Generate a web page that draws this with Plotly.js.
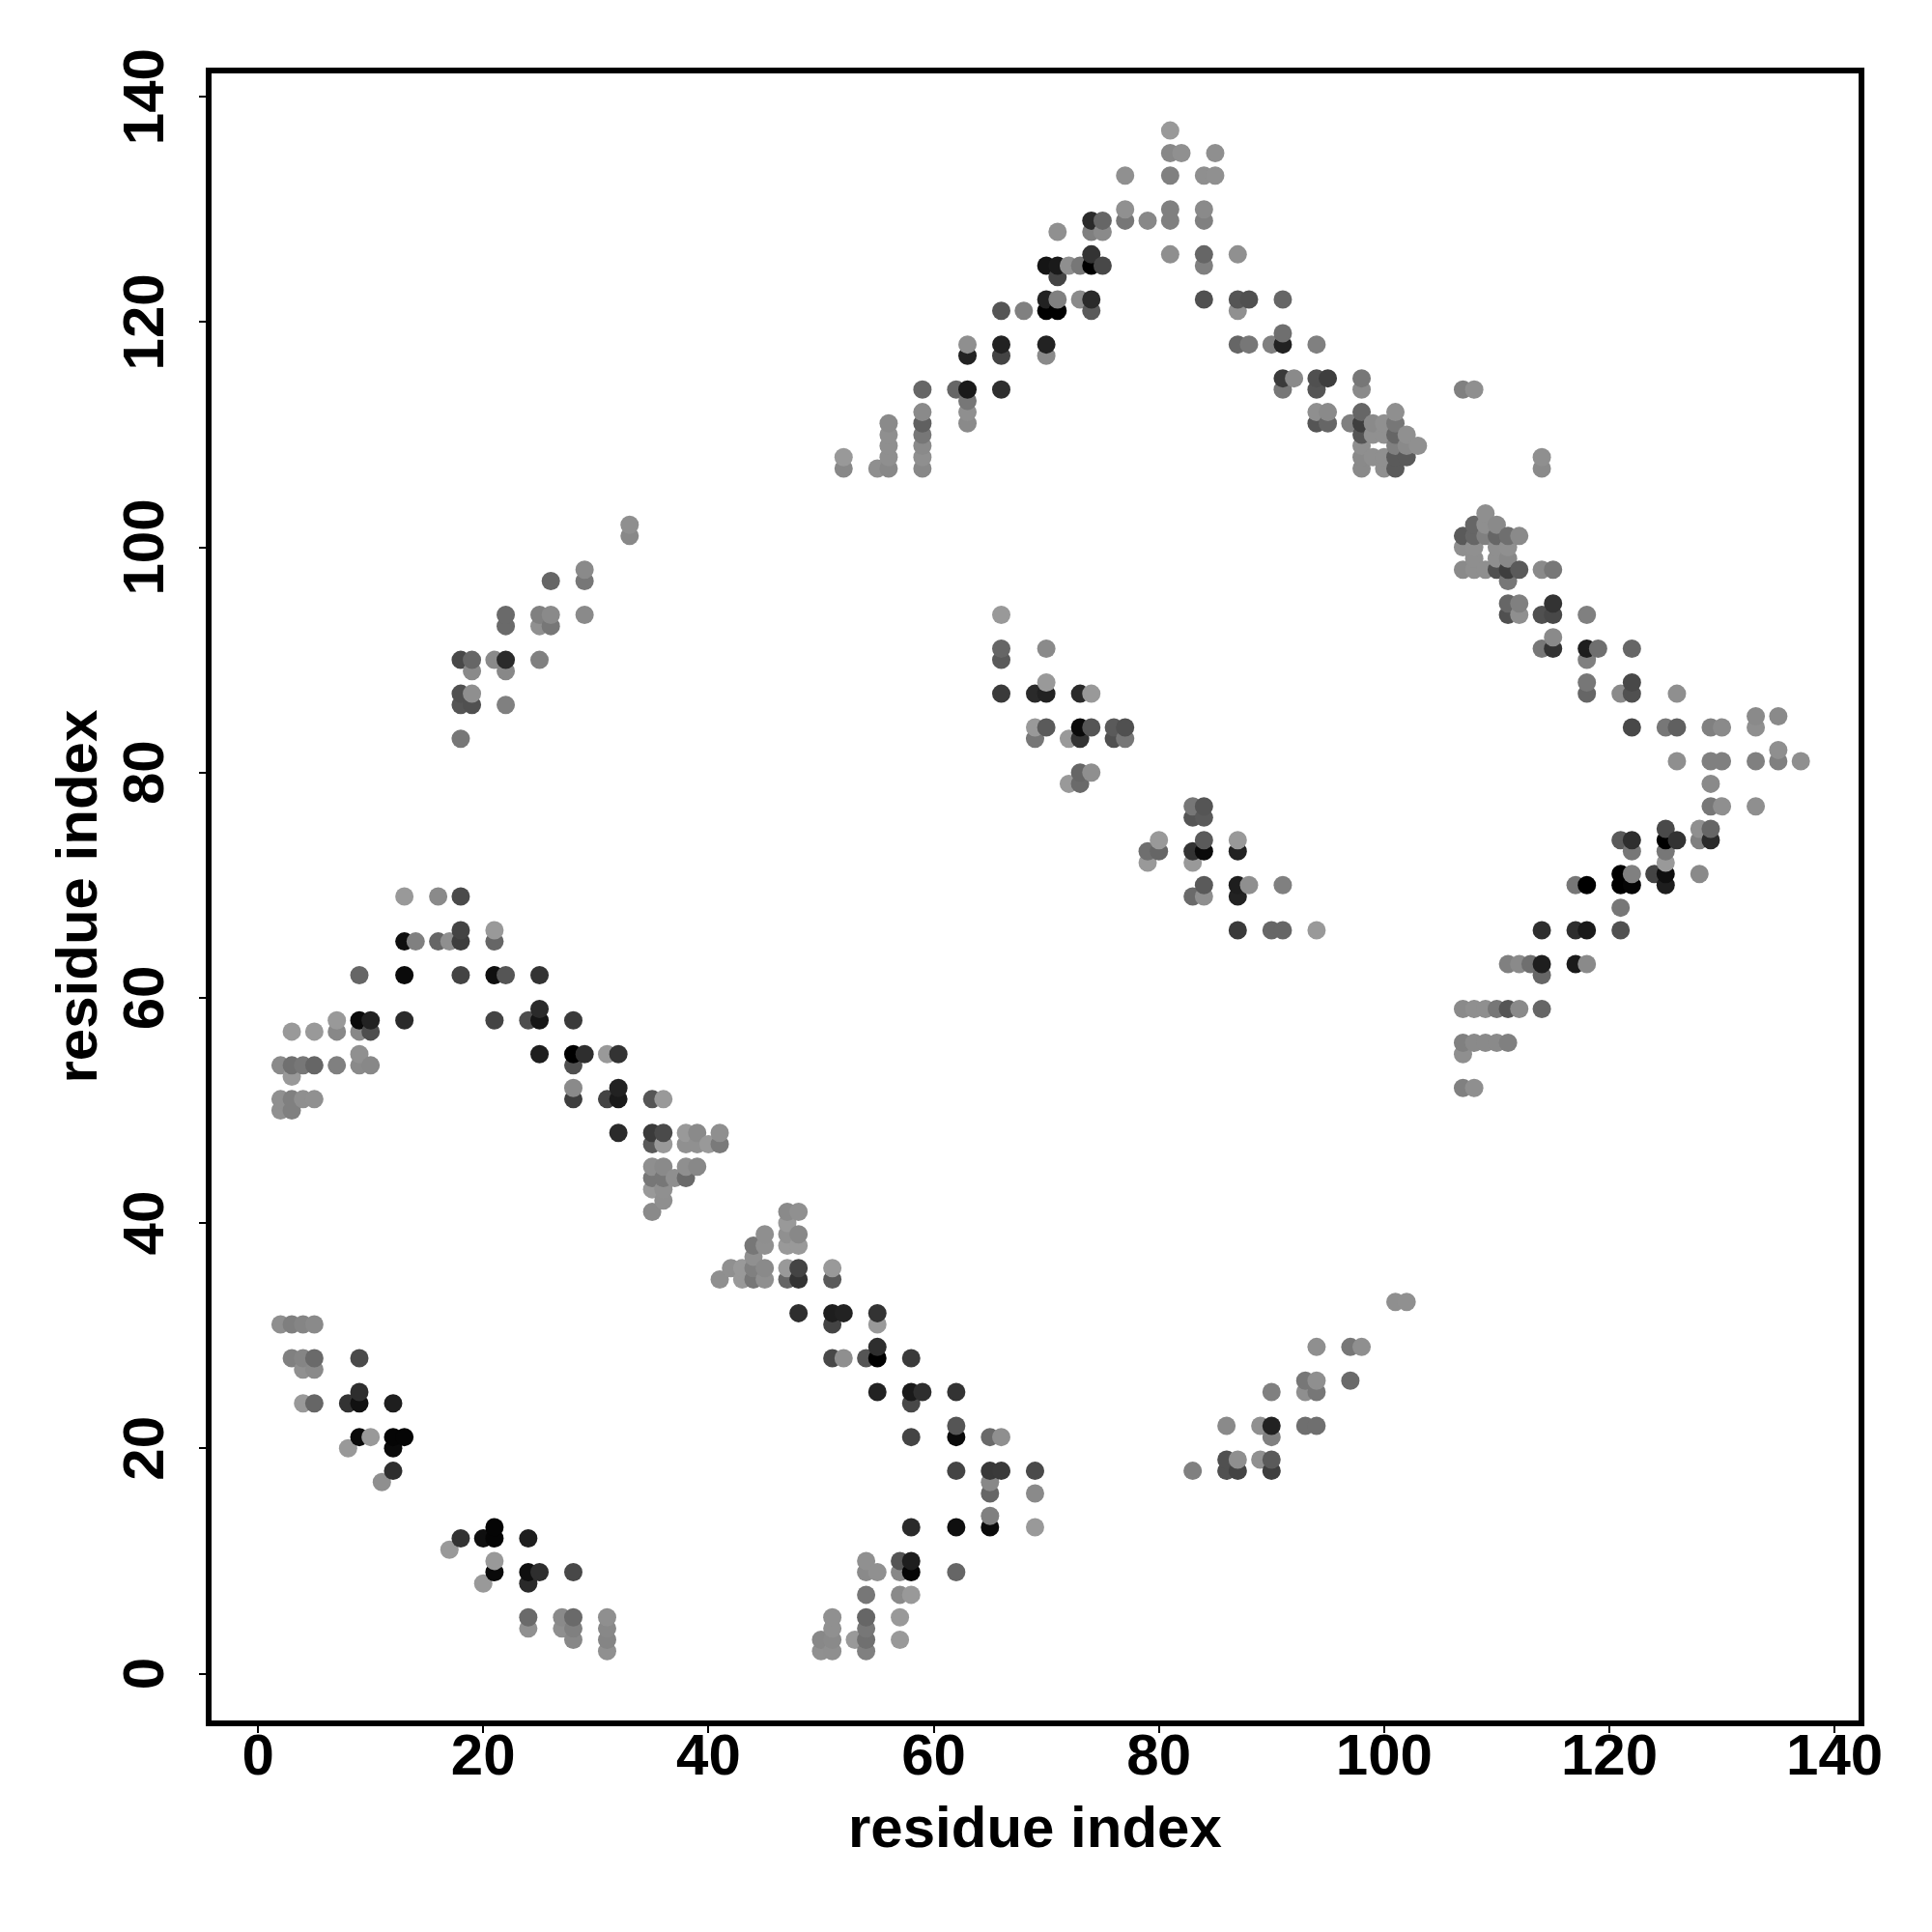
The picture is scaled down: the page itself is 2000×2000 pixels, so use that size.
<!DOCTYPE html>
<html>
<head>
<meta charset="utf-8">
<script src="https://cdn.plot.ly/plotly-3.0.1.min.js"></script>
<style>html,body{margin:0;padding:0;background:#fff}</style>
</head>
<body>
<div id="chart" style="width:2000px;height:2000px"></div>
<script>
const axisTicks = [0, 20, 40, 60, 80, 100, 120, 140];
const axisLabel = "residue index";

const residueX = [
31,50,51,54,
28,31,50,51,53,54,57,
24,27,28,31,51,54,
24,27,28,31,51,54,57,
54,57,58,
20,24,
21,24,25,28,54,55,57,58,62,
21,54,57,58,
17,
18,20,21,24,
21,58,62,65,69,
65,
65,69,
11,65,
12,62,65,66,69,83,86,87,90,
86,87,89,90,
8,12,
9,10,12,13,58,62,65,66,90,
62,86,89,90,93,94,
4,5,8,9,12,58,
9,55,58,59,62,90,93,94,
93,94,97,
4,5,
3,4,5,9,51,52,54,55,58,
55,94,97,98,
2,3,4,5,51,55,
48,51,52,55,
101,102,
41,43,44,45,47,48,51,
42,43,44,45,47,48,51,
44,
44,45,47,48,
45,47,48,
47,
35,47,48,
36,
35,36,
35,36,37,38,
35,36,38,39,
35,36,38,39,40,41,
32,35,36,38,39,41,
2,3,
2,3,4,5,28,31,32,35,36,
28,32,107,108,
3,
2,3,4,5,7,9,10,28,
9,25,28,29,31,32,107,
107,108,109,110,111,
3,5,7,9,10,
7,9,10,13,21,24,25,28,
25,107,108,109,110,111,112,114,
9,13,18,21,22,25,114,
111,112,113,114,117,118,
13,14,16,17,18,21,
18,21,87,90,91,94,114,117,118,121,
121,
13,16,18,83,84,87,
84,87,88,91,117,118,121,122,125,
121,122,124,125,128,
79,83,125,
79,80,83,84,87,122,125,
80,84,87,121,122,125,126,128,129,
125,128,129,
83,84,
83,84,129,130,133,
72,73,129,
73,74,
126,129,130,133,135,137,
135,
18,69,72,73,76,77,
69,70,73,74,76,77,122,125,126,129,130,133,
133,135,
18,19,22,
18,19,66,69,70,73,74,118,121,122,126,
70,118,122,
19,22,
18,19,21,22,25,66,118,
66,70,114,115,118,119,122,
115,
22,25,26,
22,25,26,29,66,111,112,114,115,118,
111,112,115,
26,29,111,
29,107,108,109,110,111,112,114,115,
108,110,111,
107,108,110,111,
33,107,108,109,110,111,112,
33,108,109,110,
109,
52,55,56,59,98,100,101,114,
52,56,59,98,99,100,101,102,114,
56,59,98,101,102,103,
56,59,98,99,100,101,102,
56,59,63,94,95,97,98,99,100,101,
59,63,94,95,98,101,
63,
59,62,63,66,91,94,98,107,108,
91,92,94,95,98,
63,66,70,
63,66,70,87,88,90,91,94,
91,
66,68,70,71,74,87,
70,71,73,74,84,87,88,91,
71,
70,71,72,73,74,75,84,
74,81,84,87,
71,74,75,
74,75,77,79,81,84,
77,81,84,
77,81,84,85,
81,82,85,
81
];

const residueY = [
2,2,2,2,
3,3,3,3,3,3,3,
4,4,4,4,4,4,
5,5,5,5,5,5,5,
7,7,7,
8,8,
9,9,9,9,9,9,9,9,9,
10,10,10,10,
11,
12,12,12,12,
13,13,13,13,13,
14,
16,16,
17,17,
18,18,18,18,18,18,18,18,18,
19,19,19,19,
20,20,
21,21,21,21,21,21,21,21,21,
22,22,22,22,22,22,
24,24,24,24,24,24,
25,25,25,25,25,25,25,25,
26,26,26,
27,27,
28,28,28,28,28,28,28,28,28,
29,29,29,29,
31,31,31,31,31,31,
32,32,32,32,
33,33,
35,35,35,35,35,35,35,
36,36,36,36,36,36,36,
37,
38,38,38,38,
39,39,39,
40,
41,41,41,
42,
43,43,
44,44,44,44,
45,45,45,45,
47,47,47,47,47,47,
48,48,48,48,48,48,
50,50,
51,51,51,51,51,51,51,51,51,
52,52,52,52,
53,
54,54,54,54,54,54,54,54,
55,55,55,55,55,55,55,
56,56,56,56,56,
57,57,57,57,57,
58,58,58,58,58,58,58,58,
59,59,59,59,59,59,59,59,
62,62,62,62,62,62,62,
63,63,63,63,63,63,
65,65,65,65,65,65,
66,66,66,66,66,66,66,66,66,66,
68,
69,69,69,69,69,69,
70,70,70,70,70,70,70,70,70,
71,71,71,71,71,
72,72,72,
73,73,73,73,73,73,73,
74,74,74,74,74,74,74,74,74,
75,75,75,
76,76,
77,77,77,77,77,
79,79,79,
80,80,
81,81,81,81,81,81,
82,
83,83,83,83,83,83,
84,84,84,84,84,84,84,84,84,84,84,84,
85,85,
86,86,86,
87,87,87,87,87,87,87,87,87,87,87,
88,88,88,
89,89,
90,90,90,90,90,90,90,
91,91,91,91,91,91,91,
92,
93,93,93,
94,94,94,94,94,94,94,94,94,94,
95,95,95,
97,97,97,
98,98,98,98,98,98,98,98,98,
99,99,99,
100,100,100,100,
101,101,101,101,101,101,101,
102,102,102,102,
103,
107,107,107,107,107,107,107,107,
108,108,108,108,108,108,108,108,108,
109,109,109,109,109,109,
110,110,110,110,110,110,110,
111,111,111,111,111,111,111,111,111,111,
112,112,112,112,112,112,
113,
114,114,114,114,114,114,114,114,114,
115,115,115,115,115,
117,117,117,
118,118,118,118,118,118,118,118,
119,
121,121,121,121,121,121,
122,122,122,122,122,122,122,122,
124,
125,125,125,125,125,125,125,
126,126,126,126,
128,128,128,
129,129,129,129,129,129,
130,130,130,
133,133,133,133,
135,135,135,
137
];

const greyLevel = [
0x90,0x90,0x8f,0x80,
0x88,0x85,0x88,0x8a,0x99,0x70,0x99,
0x90,0x8f,0x80,0x88,0x90,0x77,
0x6a,0x8a,0x6a,0x8f,0x90,0x66,0x99,
0x77,0x8a,0x99,
0x99,0x2a,
0x0a,0x0f,0x2e,0x48,0x8a,0x90,0x88,0x05,0x66,
0x99,0x90,0x55,0x1e,
0x99,
0x33,0x0f,0x05,0x1e,
0x05,0x2a,0x0f,0x0a,0x99,
0x80,
0x66,0x8a,
0x8f,0x88,
0x2e,0x44,0x38,0x3a,0x4a,0x80,0x50,0x44,0x3e,
0x50,0x8f,0x90,0x5a,
0x99,0x0a,
0x0a,0x99,0x05,0x05,0x44,0x0a,0x6a,0x8f,0x80,
0x55,0x8a,0x90,0x22,0x6f,0x6f,
0x99,0x66,0x33,0x11,0x1e,0x48,
0x2e,0x22,0x1a,0x2e,0x33,0x80,0x8f,0x77,
0x77,0x8f,0x6a,
0x90,0x8a,
0x80,0x85,0x6a,0x4a,0x48,0x8f,0x55,0x00,0x3a,
0x2e,0x8f,0x77,0x8f,
0x8f,0x7f,0x85,0x8a,0x44,0x99,
0x2e,0x1e,0x22,0x33,
0x8f,0x90,
0x8f,0x99,0x77,0x90,0x66,0x33,0x5a,
0x90,0x99,0x80,0x8a,0x99,0x44,0x99,
0x90,
0x77,0x90,0x99,0x99,
0x8f,0x90,0x88,
0x99,
0x8a,0x8a,0x90,
0x8f,
0x99,0x90,
0x77,0x77,0x8f,0x6a,
0x8f,0x8a,0x8f,0x88,
0x5a,0x99,0x90,0x90,0x99,0x7a,
0x2a,0x3a,0x4a,0x99,0x8a,0x8f,
0x90,0x80,
0x90,0x80,0x8f,0x90,0x3e,0x44,0x1a,0x55,0x99,
0x8a,0x22,0x80,0x8f,
0x99,
0x8a,0x70,0x77,0x66,0x80,0x8a,0x88,0x50,
0x90,0x1e,0x00,0x2e,0x99,0x33,0x8f,
0x80,0x8a,0x8a,0x8a,0x80,
0x99,0x99,0x88,0x88,0x4e,
0x99,0x0a,0x22,0x2a,0x44,0x4e,0x15,0x3a,
0x2a,0x8a,0x8f,0x8f,0x77,0x55,0x8a,0x66,
0x66,0x0a,0x44,0x0f,0x55,0x33,0x66,
0x80,0x8a,0x6f,0x1e,0x1a,0x8a,
0x0f,0x80,0x66,0x8f,0x3e,0x66,
0x44,0x99,0x3a,0x66,0x66,0x99,0x2e,0x2e,0x1a,0x50,
0x77,
0x99,0x8a,0x4a,0x6a,0x8f,0x22,
0x5a,0x1e,0x8f,0x80,0x77,0x00,0x00,0x05,0x1e,
0x00,0x80,0x44,0x0f,0x8a,
0x99,0x99,0x99,
0x6f,0x66,0x33,0x0a,0x22,0x77,0x77,
0x99,0x5a,0x99,0x5a,0x2e,0x00,0x33,0x80,0x2a,
0x4a,0x8f,0x66,
0x55,0x5a,
0x77,0x55,0x77,0x8f,0x8f,
0x99,0x6a,0x8a,
0x66,0x8f,
0x8f,0x80,0x80,0x80,0x80,0x8f,
0x8f,
0x77,0x77,0x99,0x33,0x50,0x77,
0x99,0x5a,0x0a,0x55,0x5a,0x50,0x48,0x77,0x60,0x80,0x8a,0x8f,
0x8a,0x8a,
0x55,0x50,0x80,
0x50,0x8f,0x3a,0x2a,0x22,0x2a,0x99,0x66,0x8a,0x50,0x8f,
0x99,0x77,0x48,
0x8a,0x88,
0x48,0x66,0x8a,0x2a,0x80,0x5a,0x80,
0x66,0x8a,0x77,0x33,0x1e,0x6f,0x66,
0x8a,
0x6a,0x90,0x77,
0x6a,0x80,0x8a,0x8a,0x99,0x50,0x8f,0x50,0x48,0x80,
0x66,0x80,0x33,
0x66,0x77,0x77,
0x8a,0x8a,0x8f,0x8f,0x50,0x3e,0x5a,0x8a,0x77,
0x8f,0x8f,0x88,
0x8f,0x90,0x8f,0x90,
0x88,0x5a,0x66,0x80,0x66,0x6f,0x8a,
0x8f,0x66,0x8f,0x8a,
0x8f,
0x88,0x8f,0x88,0x88,0x8a,0x8f,0x5a,0x8a,
0x99,0x8f,0x8f,0x8a,0x8f,0x8f,0x5a,0x5a,0x8f,
0x8f,0x8a,0x8f,0x80,0x8a,0x90,
0x8f,0x77,0x55,0x90,0x90,0x66,0x90,
0x8a,0x60,0x8a,0x55,0x66,0x80,0x3e,0x8a,0x90,0x77,
0x8a,0x8f,0x8f,0x8a,0x66,0x8f,
0x77,
0x66,0x66,0x1a,0x2e,0x77,0x55,0x8a,0x80,0x8f,
0x3a,0x8a,0x50,0x3e,0x77,
0x22,0x44,0x8a,
0x8f,0x22,0x22,0x66,0x77,0x80,0x22,0x80,
0x6f,
0x55,0x80,0x00,0x00,0x5a,0x90,
0x22,0x80,0x8a,0x2a,0x50,0x55,0x50,0x66,
0x44,
0x15,0x1a,0x8f,0x77,0x00,0x48,0x80,
0x33,0x8f,0x66,0x90,
0x90,0x80,0x8a,
0x2a,0x66,0x77,0x88,0x80,0x80,
0x90,0x80,0x8a,
0x90,0x80,0x8f,0x90,
0x88,0x90,0x8f,
0x99
];

// Later residues are painted over earlier ones: order by x, then by y.
const drawOrder = residueX.map((_, i) => i).sort((a, b) =>
  residueX[a] - residueX[b] || residueY[a] - residueY[b]);

const trace = {
  type: "scatter",
  mode: "markers",
  x: drawOrder.map(i => residueX[i]),
  y: drawOrder.map(i => residueY[i]),
  marker: {
    size: 19,
    line: {width: 0},
    color: drawOrder.map(i => `rgb(${greyLevel[i]},${greyLevel[i]},${greyLevel[i]})`)
  },
  hoverinfo: "x+y"
};

const fontFamily = '"Liberation Sans", Arial, Helvetica, sans-serif';
const labelFont = {family: fontFamily, size: 60, color: "#000", weight: 700};
function axis(range, tickAngle, standoff, shift) {
  return {
    range: range,
    tickmode: "array",
    tickvals: axisTicks,
    ticktext: axisTicks.map(String),
    ticks: "outside",
    ticklen: 7,
    tickwidth: 2,
    tickcolor: "#000",
    tickangle: tickAngle,
    ticklabelstandoff: standoff,
    ticklabelshift: shift,
    tickfont: labelFont,
    showline: true,
    mirror: true,
    linecolor: "#000",
    linewidth: 6,
    showgrid: false,
    zeroline: false,
    automargin: false
  };
}

Plotly.newPlot("chart", [trace], {
  width: 2000,
  height: 2000,
  margin: {l: 219.2, r: 75.5, t: 75.7, b: 219.3, pad: 0},
  paper_bgcolor: "#fff",
  plot_bgcolor: "#fff",
  showlegend: false,
  xaxis: axis([-4.125, 142.13], 0, -29, 0),
  yaxis: axis([-4.16, 142.07], -90, 13, 9),
  annotations: [
    {text: axisLabel, font: labelFont, showarrow: false, xref: "paper", yref: "paper",
     x: 0.5, y: 0, xanchor: "center", yanchor: "middle", yshift: -110},
    {text: axisLabel, font: labelFont, showarrow: false, xref: "paper", yref: "paper", textangle: -90,
     x: 0, y: 0.5, xanchor: "center", yanchor: "middle", xshift: -140}
  ]
}, {displayModeBar: false});

if (residueX.length !== residueY.length || residueX.length !== greyLevel.length) {
  console.error("length mismatch", residueX.length, residueY.length, greyLevel.length);
}
</script>
</body>
</html>
